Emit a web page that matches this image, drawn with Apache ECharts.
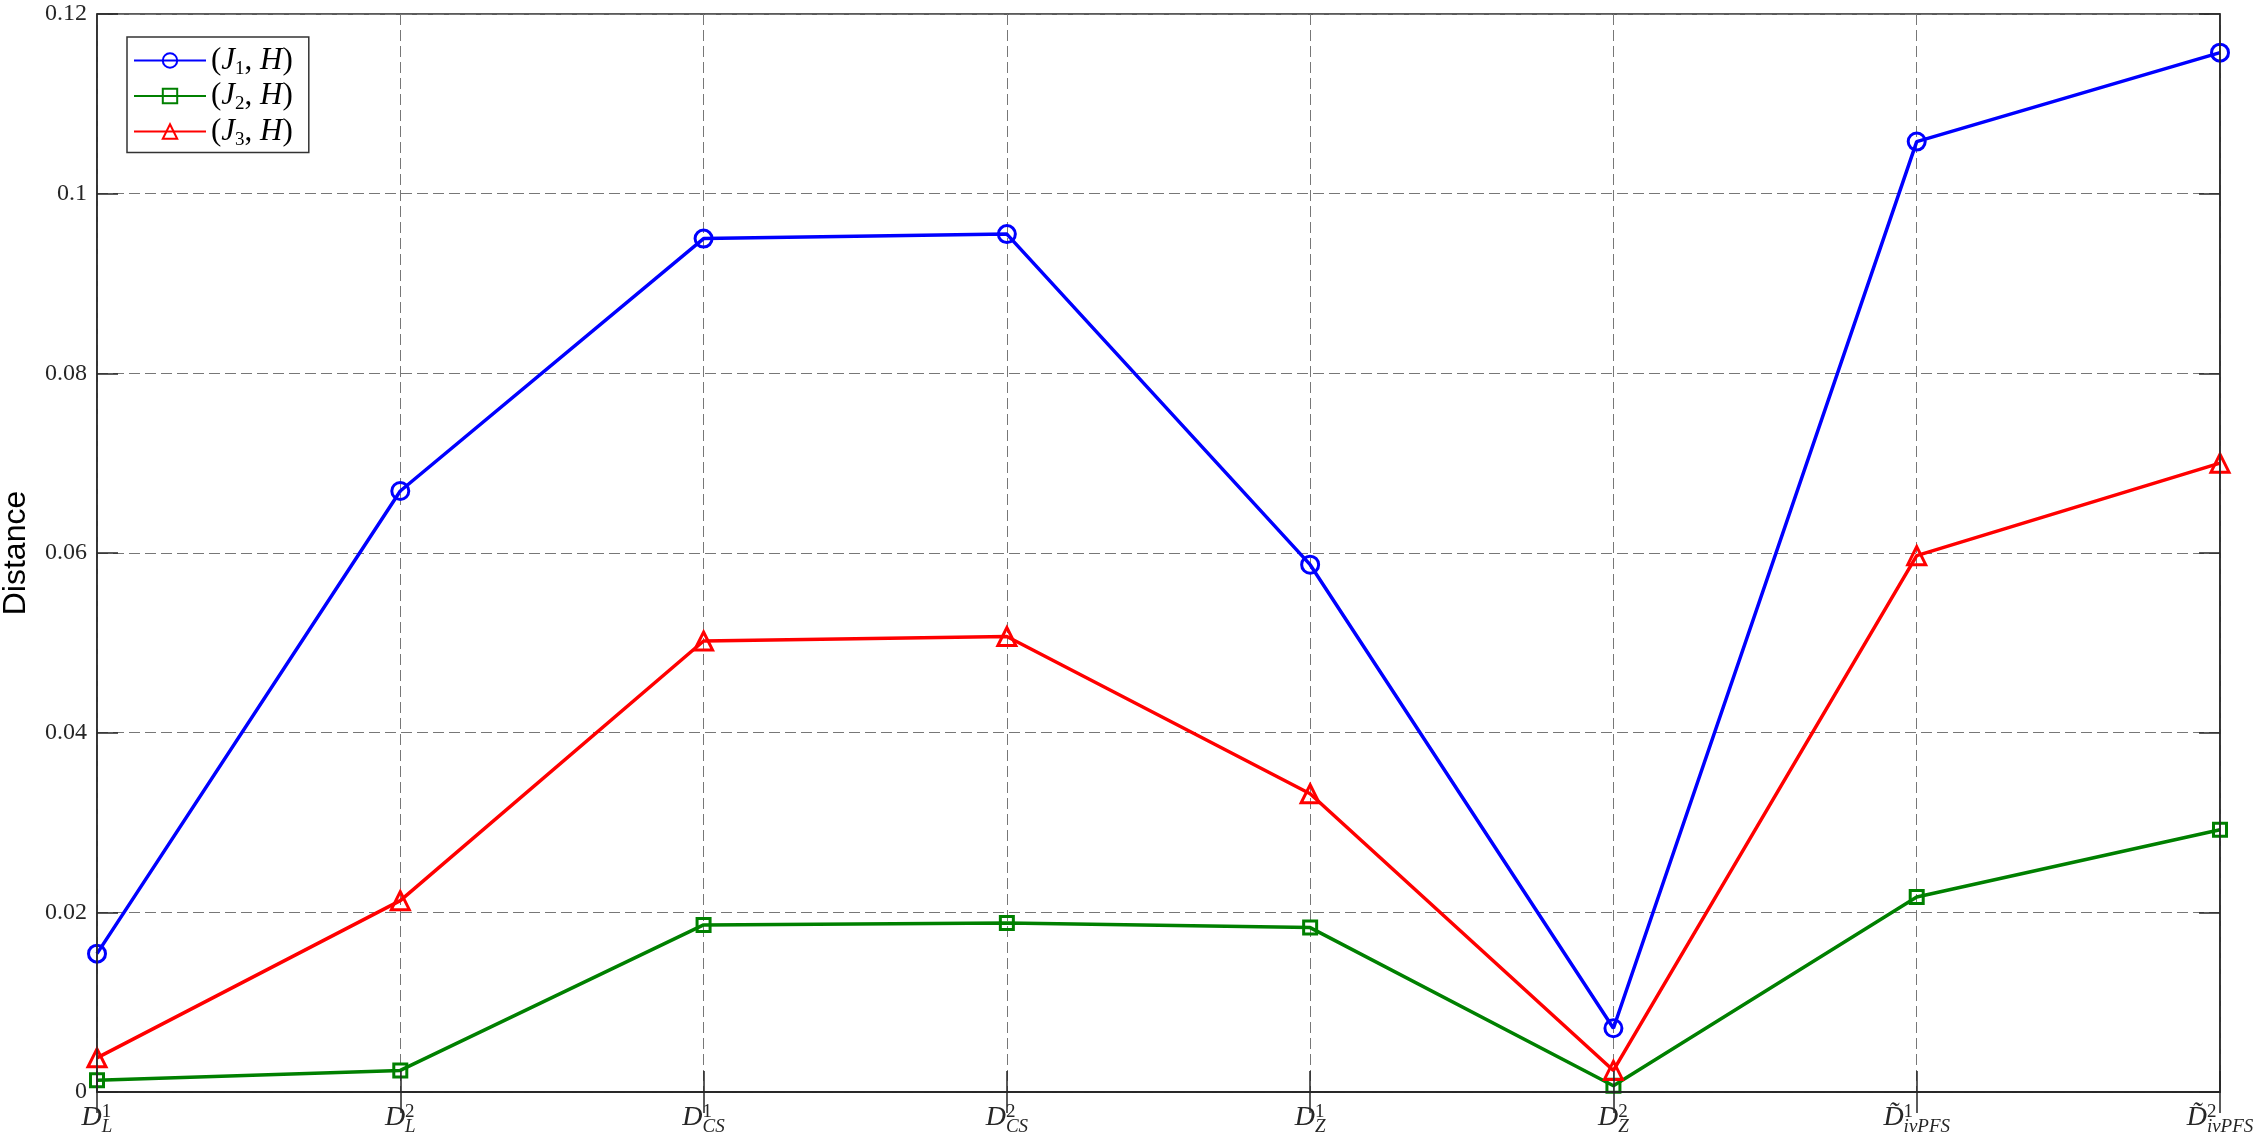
<!DOCTYPE html>
<html>
<head>
<meta charset="utf-8">
<script src="https://cdn.jsdelivr.net/npm/echarts@6/dist/echarts.min.js"></script>
<style>
  html, body { margin: 0; padding: 0; background: #fff; }
  #chart { width: 2259px; height: 1135px; }
</style>
</head>
<body>
<div id="chart"></div>
<script>
// x categories: base letter, superscript, subscript
const catBase = ['D', 'D', 'D', 'D', 'D', 'D', 'D\u0303', 'D\u0303'];
const catSup = ['1', '2', '1', '2', '1', '2', '1', '2'];
const catSub = ['L', 'L', 'CS', 'CS', 'Z', 'Z', 'ivPFS', 'ivPFS'];
const categories = catBase.map((b, i) => b + '^' + catSup[i] + '_' + catSub[i]);

const seriesNames = ['(J1,H)', '(J2,H)', '(J3,H)'];
const j1 = [0.0154, 0.0669, 0.0950, 0.0955, 0.0587, 0.0071, 0.1058, 0.1157];
const j2 = [0.0013, 0.0024, 0.0186, 0.0188, 0.0183, 0.0007, 0.0217, 0.0292];
const j3 = [0.0038, 0.0213, 0.0502, 0.0507, 0.0332, 0.0024, 0.0597, 0.0700];

const yTicks = [0, 0.02, 0.04, 0.06, 0.08, 0.1, 0.12];

const serif = '"Liberation Serif", "DejaVu Serif", serif';
const axisColor = '#262626';
const tickStyle = { show: true, inside: true, length: 21, lineStyle: { color: axisColor, width: 1.5 } };
const lineStyleAxis = { show: true, lineStyle: { color: axisColor, width: 1.5 } };
const gridLine = { show: true, lineStyle: { color: '#777', width: 1, type: [11, 5] } };

let chart = echarts.init(document.getElementById('chart'));

function mkSeries(name, data, color, symbol, size) {
  return {
    name: name,
    type: 'line',
    xAxisIndex: 0,
    yAxisIndex: 0,
    z: 2,
    data: data,
    symbol: symbol,
    symbolSize: size,
    showAllSymbol: true,
    lineStyle: { color: color, width: 3.5 },
    itemStyle: { color: 'rgba(255,255,255,0)', borderColor: color, borderWidth: 3 },
    emphasis: { disabled: true }
  };
}

let option = {
  animation: false,
  backgroundColor: '#fff',
  grid: {
    left: 97, right: 39, top: 14, bottom: 43,
    containLabel: false,
    outerBoundsMode: 'none',
    show: true, borderColor: axisColor, borderWidth: 1.5, backgroundColor: 'transparent'
  },
  legend: {
    orient: 'vertical',
    left: 127, top: 37,
    padding: [8, 16, 3, 6],
    itemWidth: 72, itemHeight: 18, itemGap: 2,
    backgroundColor: '#fff',
    borderColor: '#333', borderWidth: 1.5, borderRadius: 0,
    data: seriesNames,
    formatter: function (name) {
      const k = name.charAt(2);
      return '{t|(}{i|J}{s|' + k + '}{t|, }{i|H}{t|)}';
    },
    textStyle: {
      rich: {
        t: { fontFamily: serif, fontSize: 31, color: '#000', lineHeight: 36 },
        i: { fontFamily: serif, fontStyle: 'italic', fontSize: 31, color: '#000', lineHeight: 36 },
        s: { fontFamily: serif, fontSize: 19, color: '#000', verticalAlign: 'bottom', lineHeight: 20 }
      }
    }
  },
  xAxis: [{
    // bottom axis with labels and ticks
    type: 'category',
    data: categories,
    boundaryGap: false,
    z: 5,
    axisLine: lineStyleAxis,
    axisTick: tickStyle,
    splitLine: { show: false },
    axisLabel: {
      interval: 0,
      margin: 11,
      showMinLabel: true,
      showMaxLabel: true,
      formatter: function (val, idx) {
        return '{hd|' + catBase[idx] + '}{sup|' + catSup[idx] + '}\n{d|' + catBase[idx] + '}{sub|' + catSub[idx] + '}';
      },
      rich: {
        hd: { fontFamily: serif, fontStyle: 'italic', fontSize: 28, color: 'rgba(0,0,0,0)', lineHeight: 1, verticalAlign: 'top', align: 'left' },
        sup: { fontFamily: serif, fontSize: 19, color: '#262626', lineHeight: 1, verticalAlign: 'top', align: 'left' },
        d: { fontFamily: serif, fontStyle: 'italic', fontSize: 28, color: '#262626', lineHeight: 2, verticalAlign: 'top', align: 'left' },
        sub: { fontFamily: serif, fontStyle: 'italic', fontSize: 19, color: '#262626', lineHeight: 32, verticalAlign: 'bottom', align: 'left' }
      }
    }
  }, {
    // top box edge with ticks
    type: 'category',
    data: categories,
    boundaryGap: false,
    position: 'top',
    z: 5,
    axisLine: lineStyleAxis,
    axisTick: tickStyle,
    axisLabel: { show: false },
    splitLine: { show: false }
  }, {
    // vertical dashed grid only
    type: 'category',
    data: categories,
    boundaryGap: false,
    z: 0,
    axisLine: { show: false },
    axisTick: { show: false },
    axisLabel: { show: false },
    splitLine: gridLine
  }],
  yAxis: [{
    type: 'value',
    min: 0, max: 0.12, interval: 0.02,
    z: 5,
    name: 'Distance',
    nameLocation: 'middle',
    nameRotate: 90,
    nameGap: 65,
    nameTextStyle: { fontFamily: '"Liberation Sans", Arial, sans-serif', fontSize: 32, color: '#000' },
    axisLine: lineStyleAxis,
    axisTick: tickStyle,
    splitLine: { show: false },
    axisLabel: {
      margin: 10,
      fontFamily: serif, fontSize: 24, color: '#262626',
      formatter: function (v) {
        const t = yTicks.find(x => Math.abs(x - v) < 1e-9);
        return String(+(t !== undefined ? t : v).toFixed(2));
      }
    }
  }, {
    type: 'value',
    position: 'right',
    min: 0, max: 0.12, interval: 0.02,
    z: 5,
    axisLine: lineStyleAxis,
    axisTick: tickStyle,
    axisLabel: { show: false },
    splitLine: { show: false }
  }, {
    // horizontal dashed grid only
    type: 'value',
    min: 0, max: 0.12, interval: 0.02,
    z: 0,
    axisLine: { show: false },
    axisTick: { show: false },
    axisLabel: { show: false },
    splitLine: gridLine
  }],
  series: [
    mkSeries(seriesNames[0], j1, '#0000ff', 'circle', 17),
    mkSeries(seriesNames[1], j2, '#008000', 'rect', 13),
    mkSeries(seriesNames[2], j3, '#ff0000', 'triangle', 18)
  ]
};

chart.setOption(option);
</script>
</body>
</html>
